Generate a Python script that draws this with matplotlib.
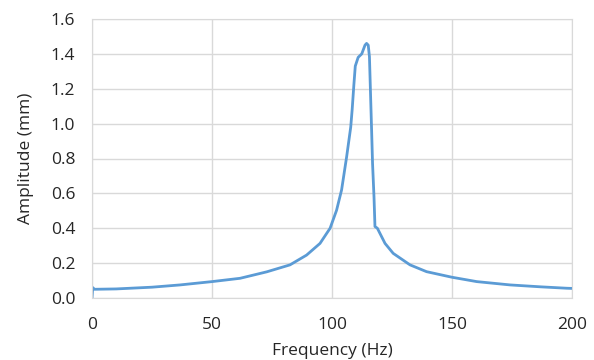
import matplotlib.pyplot as plt

# values
freq = [0, 0.3, 1, 10, 25, 36.7, 50, 61.7, 72.8, 82.5, 89.4, 95.0, 99.2, 101.9,
        104.0, 106.1, 107.8, 108.4, 109.1, 109.7, 110.9, 112.4, 113.75, 114.4,
        115.1, 115.6, 116.1, 116.5, 116.9, 117.5, 117.9, 118.9, 120.0, 122.1,
        125.5, 132.5, 139.4, 150, 160.3, 174.2, 187, 197.8, 200]
amp = [0.0, 0.06, 0.05, 0.052, 0.062, 0.075, 0.094, 0.113, 0.15, 0.19, 0.246,
       0.313, 0.40, 0.503, 0.62, 0.81, 0.98, 1.08, 1.22, 1.33, 1.38, 1.40, 1.45,
       1.46, 1.45, 1.384, 1.15, 0.963, 0.77, 0.58, 0.41, 0.40, 0.37, 0.313, 0.256,
       0.19, 0.151, 0.119, 0.094, 0.075, 0.064, 0.056, 0.055]

xticks = [0, 50, 100, 150, 200]
yticks = [0.0, 0.2, 0.4, 0.6, 0.8, 1.0, 1.2, 1.4, 1.6]

plt.rcParams['font.family'] = ['Open Sans', 'DejaVu Sans']

fig = plt.figure(figsize=(5.94, 3.6), dpi=100)
ax = fig.add_axes([92 / 594, 1 - 298 / 360, 480 / 594, 279 / 360])

ax.plot(freq, amp, color='#5B9BD5', lw=2.0, solid_joinstyle='round')

ax.set_xlim(0, 200)
ax.set_ylim(0, 1.6)
ax.set_xticks(xticks)
ax.set_yticks(yticks)
ax.set_yticklabels([f"{v:.1f}" for v in yticks])
ax.grid(True, color='#D9D9D9', lw=1.0)
ax.set_axisbelow(True)
for s in ax.spines.values():
    s.set_color('#D9D9D9')
ax.tick_params(length=0, labelsize=12.5, colors='#262626')
ax.tick_params(axis='x', pad=14)
ax.tick_params(axis='y', pad=12)

ax.set_xlabel("Frequency (Hz)", fontsize=12.5, color='#262626', labelpad=7)
ax.set_ylabel("Amplitude (mm)", fontsize=12.5, color='#262626', labelpad=12)

fig.savefig("out.png", dpi=100)
